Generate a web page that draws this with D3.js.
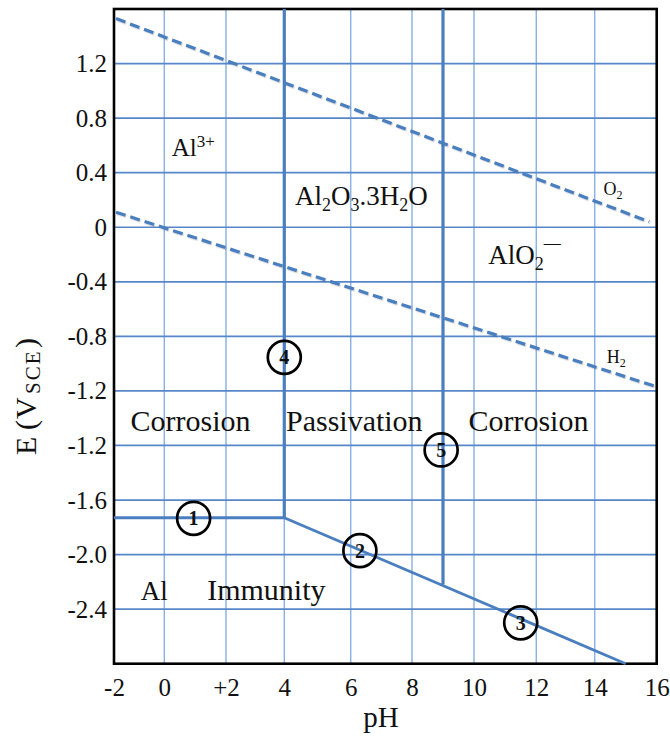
<!DOCTYPE html>
<html>
<head>
<meta charset="utf-8">
<script src="https://cdn.jsdelivr.net/npm/d3@7"></script>
<style>
  html, body { margin: 0; padding: 0; background: #ffffff; }
  svg { display: block; }
  text { font-family: "Liberation Serif", "Times New Roman", serif; fill: #111; }
</style>
</head>
<body>
<div id="chart"></div>
<script>
// ---------- data ----------
const xTicks = [-2, 0, 2, 4, 6, 8, 10, 12, 14, 16];
const xTickLabels = ["-2", "0", "+2", "4", "6", "8", "10", "12", "14", "16"];
const yTicks = [1.2, 0.8, 0.4, 0, -0.4, -0.8, -1.2, -1.6, -2.0, -2.4, -2.8];
const yTickLabels = ["1.2", "0.8", "0.4", "0", "-0.4", "-0.8", "-1.2", "-1.2", "-1.6", "-2.0", "-2.4"];
const gridX = [0, 2, 4, 6, 8, 10, 12, 14];

// solid phase boundaries [pH, E]
const lineAlAl3 = [[-2, -2.13], [4, -2.13]];
const lineAl3Oxide = [[4, 1.6], [4, -2.13]];
const lineAlOxide = [[4, -2.13], [15, -3.2]];
const lineOxideAlO2 = [[9, 1.6], [9, -2.62]];
// water stability lines (dashed)
const lineO2 = [[-1.92, 1.53], [15.76, 0.04]];
const lineH2 = [[-1.92, 0.11], [16, -1.17]];

// region labels: [pH, E, text]
const regionLabels = [
  [-1.34, -1.494, "Corrosion"],
  [4.05, -1.494, "Passivation"],
  [9.82, -1.494, "Corrosion"],
  [-0.94, -2.733, "Al"],
  [1.39, -2.733, "Immunity"]
];
// circled markers: [pH, E, number]
const markers = [
  [0.95, -2.134, "1"],
  [6.30, -2.371, "2"],
  [11.5, -2.90, "3"],
  [4.0, -0.954, "4"],
  [8.94, -1.633, "5"]
];

// ---------- layout ----------
const W = 670, H = 738;
const plot = { left: 114, top: 9, right: 656.7, bottom: 663.7 };

// x grid of the original figure is slightly irregular: calibrated piecewise scale
const xRangePos = [114, 164.3, 226, 284.3, 350.7, 412, 474, 536.3, 594.7, 656.7];
const x = d3.scaleLinear().domain(xTicks).range(xRangePos);
const y = d3.scaleLinear().domain([-3.2, 1.6]).range([plot.bottom, plot.top]);

const svg = d3.select("#chart").append("svg")
  .attr("width", W).attr("height", H);

const defs = svg.append("defs");
const f = defs.append("filter").attr("id", "shadow")
  .attr("x", "-5%").attr("y", "-5%").attr("width", "110%").attr("height", "120%");
f.append("feDropShadow").attr("dx", 0.8).attr("dy", 1.2).attr("stdDeviation", 0.7)
  .attr("flood-color", "#000").attr("flood-opacity", 0.18);

// gridlines
const grid = svg.append("g");
grid.selectAll("line.gx").data(gridX).join("line")
  .attr("x1", d => x(d)).attr("x2", d => x(d))
  .attr("y1", plot.top).attr("y2", plot.bottom)
  .attr("stroke", "#8DB4E2").attr("stroke-width", 1.5);
grid.selectAll("line.gy").data(yTicks).join("line")
  .attr("x1", plot.left).attr("x2", plot.right)
  .attr("y1", d => y(d)).attr("y2", d => y(d))
  .attr("stroke", "#5687C9").attr("stroke-width", 1.7);

// axes
const xAxis = d3.axisBottom(x).tickValues(xTicks)
  .tickFormat((d, i) => xTickLabels[i]).tickSize(0).tickPadding(15);
const gx = svg.append("g").attr("transform", `translate(0,${plot.bottom})`).call(xAxis);
gx.select(".domain").remove();
gx.selectAll("text").attr("font-size", 25).attr("font-family", "Liberation Serif").attr("fill", "#111");

const yAxis = d3.axisLeft(y).tickValues(yTicks)
  .tickFormat((d, i) => yTickLabels[i]).tickSize(0).tickPadding(7);
const gy = svg.append("g").attr("transform", `translate(${plot.left},0)`).call(yAxis);
gy.select(".domain").remove();
gy.selectAll("text").attr("font-size", 25).attr("font-family", "Liberation Serif").attr("fill", "#111");

// frame
svg.append("rect")
  .attr("x", plot.left).attr("y", plot.top)
  .attr("width", plot.right - plot.left).attr("height", plot.bottom - plot.top)
  .attr("fill", "none").attr("stroke", "#000").attr("stroke-width", 2.6);

const line = d3.line().x(d => x(d[0])).y(d => y(d[1]));
const blue = "#4A7EBF";

// solid boundaries
[lineAlAl3, lineAl3Oxide, lineOxideAlO2].forEach(pts => {
  svg.append("path").attr("d", line(pts)).attr("fill", "none")
    .attr("stroke", blue).attr("stroke-width", 3.2);
});
svg.append("path").attr("d", line(lineAlOxide)).attr("fill", "none")
  .attr("stroke", blue).attr("stroke-width", 2.8);

// dashed water lines
[lineO2, lineH2].forEach(pts => {
  svg.append("path").attr("d", line(pts)).attr("fill", "none")
    .attr("stroke", blue).attr("stroke-width", 3.2)
    .attr("stroke-dasharray", "10,5")
    .attr("filter", "url(#shadow)");
});

// species labels
const t1 = svg.append("text").attr("x", x(0.24)).attr("y", y(0.52)).attr("font-size", 25);
t1.append("tspan").text("Al");
t1.append("tspan").attr("font-size", 17).attr("dy", -9).text("3+");

const t2 = svg.append("text").attr("x", x(4.32)).attr("y", y(0.163)).attr("font-size", 27);
t2.append("tspan").text("Al");
t2.append("tspan").attr("font-size", 18).attr("dy", 6).text("2");
t2.append("tspan").attr("dy", -6).text("O");
t2.append("tspan").attr("font-size", 18).attr("dy", 6).text("3");
t2.append("tspan").attr("dy", -6).text(".3H");
t2.append("tspan").attr("font-size", 18).attr("dy", 6).text("2");
t2.append("tspan").attr("dy", -6).text("O");

const t3 = svg.append("text").attr("x", x(10.46)).attr("y", y(-0.272)).attr("font-size", 27);
t3.append("tspan").text("AlO");
t3.append("tspan").attr("font-size", 18).attr("dy", 6).text("2");
t3.append("tspan").attr("font-size", 17).attr("dy", -22).text("—");

const t4 = svg.append("text").attr("x", x(14.28)).attr("y", y(0.236)).attr("font-size", 18);
t4.append("tspan").text("O");
t4.append("tspan").attr("font-size", 12).attr("dy", 4).text("2");

const t5 = svg.append("text").attr("x", x(14.39)).attr("y", y(-0.998)).attr("font-size", 18);
t5.append("tspan").text("H");
t5.append("tspan").attr("font-size", 12).attr("dy", 4).text("2");

svg.selectAll("text.region").data(regionLabels).join("text")
  .attr("class", "region")
  .attr("x", d => x(d[0])).attr("y", d => y(d[1]))
  .attr("font-size", d => d[2] === "Al" ? 27 : 30)
  .text(d => d[2]);

// circled numbers
const mg = svg.selectAll("g.marker").data(markers).join("g")
  .attr("class", "marker")
  .attr("transform", d => `translate(${x(d[0])},${y(d[1])})`);
mg.append("circle").attr("r", 16.5).attr("fill", "none")
  .attr("stroke", "#000").attr("stroke-width", 2.7);
mg.append("text").attr("text-anchor", "middle").attr("dy", "0.35em")
  .attr("font-size", 20).attr("font-weight", "bold").text(d => d[2]);

// axis titles
svg.append("text").attr("x", 381).attr("y", 727)
  .attr("text-anchor", "middle").attr("font-size", 29).text("pH");

const yt = svg.append("text").attr("transform", "translate(36,455) rotate(-90)")
  .attr("font-size", 30);
yt.append("tspan").attr("x", 0).text("E");
yt.append("tspan").attr("x", 25).text("(");
yt.append("tspan").attr("x", 36).text("V");
yt.append("tspan").attr("x", 61).attr("dy", 4).attr("font-size", 21)
  .attr("letter-spacing", 2).text("SCE");
yt.append("tspan").attr("x", 107).attr("dy", -4).text(")");
</script>
</body>
</html>
